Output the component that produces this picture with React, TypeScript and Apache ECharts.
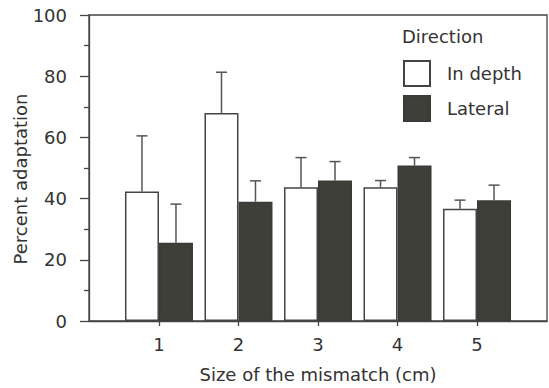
import React, { useEffect, useRef } from "react";
import * as echarts from "echarts";

const sizes = [1, 2, 3, 4, 5];
const inDepth = [42.3, 68.0, 43.7, 43.7, 36.7];
const inDepthErrTop = [60.5, 81.3, 53.4, 45.9, 39.5];
const lateral = [25.6, 39.0, 45.9, 50.8, 39.5];
const lateralErrTop = [38.2, 45.8, 52.1, 53.4, 44.4];
const yTicks = [0, 20, 40, 60, 80, 100];

const FONT = "DejaVu Sans";
const TEXT = "#333";
const LINE = "#444";
const DARK = "#3e3f39";
const BAR_W = 34;

export default function App() {
  const ref = useRef<HTMLDivElement>(null);
  useEffect(() => {
    if (!ref.current) return;
    const chart = echarts.init(ref.current, null, { renderer: "svg" });
    const errData: number[][] = [];
    sizes.forEach((s, i) => {
      errData.push([s, inDepth[i], inDepthErrTop[i], -1]);
      errData.push([s, lateral[i], lateralErrTop[i], 1]);
    });
    chart.setOption({
      animation: false,
      textStyle: { fontFamily: FONT },
      grid: {
        left: 89,
        top: 15,
        right: 2,
        bottom: 67,
        show: true,
        borderColor: LINE,
        borderWidth: 1.3,
        backgroundColor: "transparent",
      },
      legend: {
        orient: "vertical",
        left: 403,
        top: 60,
        padding: 0,
        itemWidth: 26,
        itemHeight: 25,
        itemGap: 8,
        icon: "rect",
        textStyle: { fontSize: 18, color: TEXT, fontFamily: FONT, padding: [0, 0, 0, 12] },
        data: ["In depth", "Lateral"],
      },
      graphic: [
        {
          type: "text",
          left: 402,
          top: 27,
          style: { text: "Direction", fontSize: 18, fill: TEXT, fontFamily: FONT },
        },
        {
          type: "text",
          x: 20,
          y: 179,
          rotation: Math.PI / 2,
          style: {
            text: "Percent adaptation",
            fontSize: 18,
            fill: TEXT,
            fontFamily: FONT,
            align: "center",
            verticalAlign: "middle",
          },
        },
      ],
      xAxis: {
        type: "value",
        min: 0.12,
        max: 5.88,
        name: "Size of the mismatch (cm)",
        nameLocation: "middle",
        nameGap: 44,
        nameTextStyle: { fontSize: 18, color: TEXT, fontFamily: FONT },
        axisLine: { show: true, lineStyle: { color: LINE, width: 1.3 } },
        axisTick: { show: true, length: 5, customValues: sizes, lineStyle: { color: LINE, width: 1.3 } },
        axisLabel: {
          customValues: sizes,
          fontSize: 18,
          color: TEXT,
          fontFamily: FONT,
          margin: 14,
          formatter: (v: number) => String(v),
        },
        splitLine: { show: false },
      },
      yAxis: {
        type: "value",
        min: 0,
        max: 100,
        interval: 20,
        axisLine: { show: true, lineStyle: { color: LINE, width: 1.3 } },
        axisTick: { show: true, length: 9, customValues: yTicks, lineStyle: { color: LINE, width: 1.3 } },
        minorTick: { show: true, splitNumber: 2, length: 5, lineStyle: { color: LINE, width: 1.3 } },
        axisLabel: { fontSize: 18, color: TEXT, fontFamily: FONT, margin: 22 },
        splitLine: { show: false },
      },
      series: [
        {
          name: "In depth",
          type: "bar",
          barWidth: BAR_W,
          barGap: "0%",
          data: sizes.map((s, i) => [s, inDepth[i]]),
          itemStyle: { color: "#ffffff", borderColor: LINE, borderWidth: 1.5 },
        },
        {
          name: "Lateral",
          type: "bar",
          barWidth: BAR_W,
          barGap: "0%",
          data: sizes.map((s, i) => [s, lateral[i]]),
          itemStyle: { color: DARK, borderColor: "#3a3a36", borderWidth: 1.5 },
        },
        {
          type: "custom",
          z: 5,
          data: errData,
          renderItem: (params: any, api: any) => {
            const x = api.value(0);
            const v = api.value(1);
            const t = api.value(2);
            const side = api.value(3);
            const b = api.coord([x, v]);
            const tp = api.coord([x, t]);
            const cx = b[0] + side * (BAR_W / 2);
            const style = { stroke: "#555", lineWidth: 1.5, fill: "none" };
            return {
              type: "group",
              children: [
                { type: "line", shape: { x1: cx, y1: b[1], x2: cx, y2: tp[1] }, style },
                { type: "line", shape: { x1: cx - 5.5, y1: tp[1], x2: cx + 5.5, y2: tp[1] }, style },
              ],
            };
          },
        },
      ],
    });
    return () => chart.dispose();
  }, []);
  return (
    <div
      ref={ref}
      style={{ position: "fixed", left: 0, top: 0, width: 549, height: 388, background: "#fff" }}
    />
  );
}
